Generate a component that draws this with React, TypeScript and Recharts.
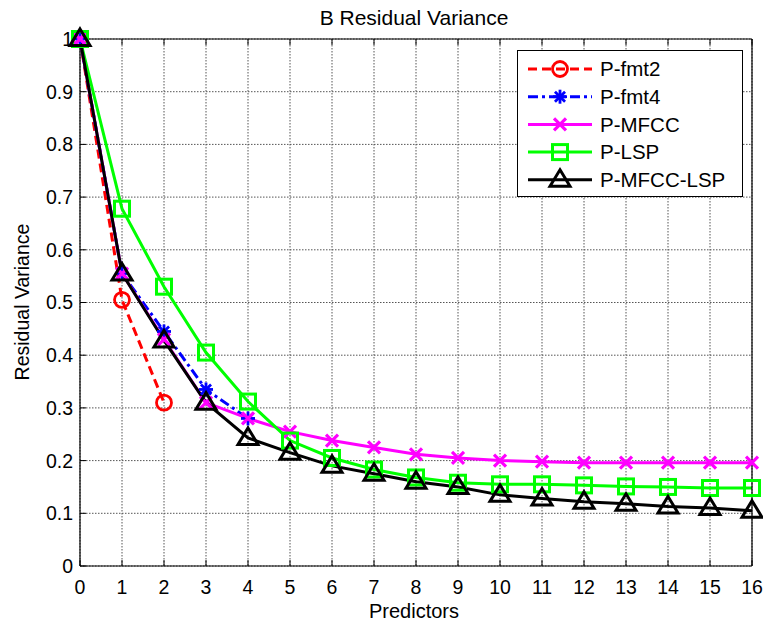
import React from 'react';
import { LineChart, Line, XAxis, YAxis, CartesianGrid, Legend, Label } from 'recharts';

const predictors = [0, 1, 2, 3, 4, 5, 6, 7, 8, 9, 10, 11, 12, 13, 14, 15, 16];
const xTicks = [0, 1, 2, 3, 4, 5, 6, 7, 8, 9, 10, 11, 12, 13, 14, 15, 16];
const yTicks = [0, 0.1, 0.2, 0.3, 0.4, 0.5, 0.6, 0.7, 0.8, 0.9, 1];
const yTickLabels = ['0', '0.1', '0.2', '0.3', '0.4', '0.5', '0.6', '0.7', '0.8', '0.9', '1'];

const pFmt2 = [1, 0.505, 0.31];
const pFmt4 = [1, 0.555, 0.445, 0.335, 0.28];
const pMfcc = [1, 0.555, 0.43, 0.31, 0.28, 0.255, 0.238, 0.225, 0.212, 0.205, 0.2, 0.198, 0.196, 0.196, 0.196, 0.196, 0.196];
const pLsp = [1, 0.678, 0.53, 0.405, 0.312, 0.238, 0.205, 0.183, 0.168, 0.158, 0.155, 0.155, 0.153, 0.151, 0.15, 0.148, 0.148];
const pMfccLsp = [1, 0.555, 0.428, 0.31, 0.243, 0.215, 0.19, 0.175, 0.16, 0.15, 0.135, 0.128, 0.122, 0.118, 0.113, 0.11, 0.105];

const data = predictors.map((p, i) => ({
  x: p,
  fmt2: pFmt2[i],
  fmt4: pFmt4[i],
  mfcc: pMfcc[i],
  lsp: pLsp[i],
  mfcclsp: pMfccLsp[i],
}));

const FONT = '"Liberation Sans", Arial, sans-serif';

type MK = 'circle' | 'star' | 'x' | 'square' | 'triangle';

function Marker({ kind, cx, cy, color }: { kind: MK; cx: number; cy: number; color: string }) {
  if (cx == null || cy == null || isNaN(cx) || isNaN(cy)) return <g />;
  if (kind === 'circle') return <circle cx={cx} cy={cy} r={7.5} fill="none" stroke={color} strokeWidth={2.8} />;
  if (kind === 'square')
    return <rect x={cx - 7.5} y={cy - 7.5} width={15} height={15} fill="none" stroke={color} strokeWidth={3} />;
  if (kind === 'triangle')
    return (
      <path d={`M${cx},${cy - 10} L${cx + 10},${cy + 6.5} L${cx - 10},${cy + 6.5} Z`} fill="none" stroke={color} strokeWidth={3} strokeLinejoin="miter" />
    );
  if (kind === 'x') {
    const r = 6;
    return (
      <g stroke={color} strokeWidth={3.2}>
        <line x1={cx - r} y1={cy - r} x2={cx + r} y2={cy + r} />
        <line x1={cx - r} y1={cy + r} x2={cx + r} y2={cy - r} />
      </g>
    );
  }
  const r = 7;
  const d = r * 0.72;
  return (
    <g stroke={color} strokeWidth={2.8}>
      <line x1={cx - r} y1={cy} x2={cx + r} y2={cy} />
      <line x1={cx} y1={cy - r} x2={cx} y2={cy + r} />
      <line x1={cx - d} y1={cy - d} x2={cx + d} y2={cy + d} />
      <line x1={cx - d} y1={cy + d} x2={cx + d} y2={cy - d} />
    </g>
  );
}

const seriesDefs = [
  { key: 'fmt2', name: 'P-fmt2', color: '#FF0000', marker: 'circle' as MK, dash: '9 5' },
  { key: 'fmt4', name: 'P-fmt4', color: '#0000FF', marker: 'star' as MK, dash: '10 4 3 4' },
  { key: 'mfcc', name: 'P-MFCC', color: '#FF00FF', marker: 'x' as MK, dash: undefined },
  { key: 'lsp', name: 'P-LSP', color: '#00FF00', marker: 'square' as MK, dash: undefined },
  { key: 'mfcclsp', name: 'P-MFCC-LSP', color: '#000000', marker: 'triangle' as MK, dash: undefined },
];

function renderLegend() {
  const rowH = 27.7;
  return (
    <svg width={226} height={147} style={{ display: 'block' }}>
      <rect x={0.5} y={0.5} width={225} height={146} fill="#fff" stroke="#000" strokeWidth={1} />
      {seriesDefs.map((s, i) => {
        const y = 19 + i * rowH;
        return (
          <g key={s.key}>
            <line x1={11} y1={y} x2={75} y2={y} stroke={s.color} strokeWidth={3} strokeDasharray={s.dash} />
            <Marker kind={s.marker} cx={43} cy={y} color={s.color} />
            <text x={83} y={y} dy="0.35em" fontFamily={FONT} fontSize={20.5} fill="#000">
              {s.name}
            </text>
          </g>
        );
      })}
    </svg>
  );
}

const noTick = () => <g />;

export default function App() {
  return (
    <div style={{ position: 'absolute', left: 0, top: 0, background: '#fff' }}>
      <LineChart width={763} height={625} data={data} margin={{ top: 38, right: 10, bottom: 29, left: 30 }}>
        <CartesianGrid stroke="#555" strokeDasharray="1.5 1.5" strokeWidth={1} />
        <XAxis
          dataKey="x"
          type="number"
          domain={[0, 16]}
          ticks={xTicks}
          interval={0}
          height={30}
          tickSize={-6}
          tickMargin={20}
          axisLine={{ stroke: '#000', strokeWidth: 1.2 }}
          tickLine={{ stroke: '#000' }}
          tick={{ fill: '#000', fontFamily: FONT, fontSize: 19.5 }}
        >
          <Label
            content={() => (
              <text x={414} y={618} textAnchor="middle" fontFamily={FONT} fontSize={20} fill="#000">
                Predictors
              </text>
            )}
          />
        </XAxis>
        <XAxis
          xAxisId="top"
          orientation="top"
          dataKey="x"
          type="number"
          domain={[0, 16]}
          ticks={xTicks}
          interval={0}
          height={1}
          tickSize={-6}
          axisLine={{ stroke: '#000', strokeWidth: 1.2 }}
          tickLine={{ stroke: '#000' }}
          tick={noTick}
        >
          <Label
            content={() => (
              <text x={414} y={25} textAnchor="middle" fontFamily={FONT} fontSize={21} fill="#000">
                B Residual Variance
              </text>
            )}
          />
        </XAxis>
        <YAxis
          type="number"
          domain={[0, 1]}
          ticks={yTicks}
          interval={0}
          width={50}
          tickSize={-6}
          tickMargin={13}
          axisLine={{ stroke: '#000', strokeWidth: 1.2 }}
          tickLine={{ stroke: '#000' }}
          tickFormatter={(v: number) => yTickLabels[yTicks.findIndex((t) => Math.abs(t - v) < 1e-9)] ?? String(v)}
          tick={{ fill: '#000', fontFamily: FONT, fontSize: 19.5 }}
        >
          <Label
            content={() => (
              <text x={22} y={302} textAnchor="middle" dy="0.35em" transform="rotate(-90 22 302)" fontFamily={FONT} fontSize={19.5} fill="#000">
                Residual Variance
              </text>
            )}
          />
        </YAxis>
        <YAxis
          yAxisId="right"
          orientation="right"
          type="number"
          domain={[0, 1]}
          ticks={yTicks}
          interval={0}
          width={1}
          tickSize={-6}
          axisLine={{ stroke: '#000', strokeWidth: 1.2 }}
          tickLine={{ stroke: '#000' }}
          tick={noTick}
        />
        <Legend
          layout="horizontal"
          verticalAlign="middle"
          align="center"
          content={renderLegend}
          wrapperStyle={{ left: 517, top: 50, width: 226, height: 147 }}
        />
        {seriesDefs.map((s) => (
          <Line
            key={s.key}
            dataKey={s.key}
            name={s.name}
            type="linear"
            stroke={s.color}
            strokeWidth={3}
            strokeDasharray={s.dash}
            isAnimationActive={false}
            connectNulls={false}
            dot={(props: any) => <Marker key={`${s.key}-${props.index}`} kind={s.marker} cx={props.cx} cy={props.cy} color={s.color} />}
            activeDot={false}
          />
        ))}
      </LineChart>
    </div>
  );
}
